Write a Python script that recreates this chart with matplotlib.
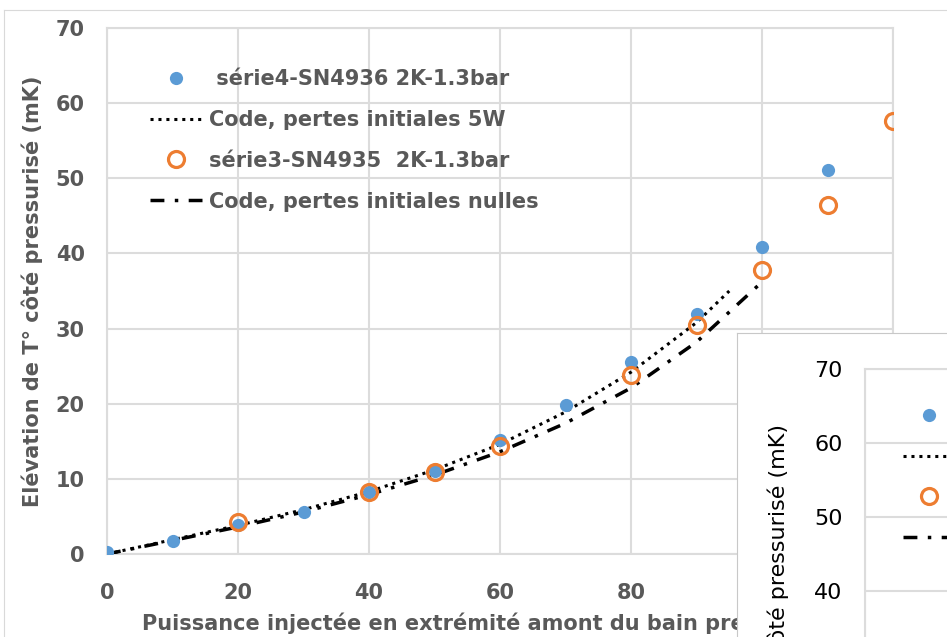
import matplotlib
matplotlib.use("Agg")
import matplotlib.pyplot as plt

plt.rcParams['font.family'] = ['DejaVu Sans']

# mesures série4 (points bleus)
x_s4 = [0, 10, 20, 30, 40, 50, 60, 70, 80, 90, 100, 110]
y_s4 = [0.3, 1.7, 3.8, 5.6, 8.3, 11.0, 15.2, 19.8, 25.5, 32.0, 40.9, 51.1]
# mesures série3 (cercles orange)
x_s3 = [20, 40, 50, 60, 80, 90, 100, 110, 120]
y_s3 = [4.2, 8.3, 10.9, 14.4, 23.8, 30.5, 37.8, 46.4, 57.6]
# calcul code, pertes initiales 5W
x_5w = [0, 10, 20, 30, 40, 50, 60, 70, 80, 90, 95]
y_5w = [0, 1.9, 3.8, 5.9, 8.3, 11.2, 14.6, 18.9, 24.2, 30.8, 35.0]
# calcul code, pertes initiales nulles
x_0w = [0, 10, 20, 30, 40, 50, 60, 70, 80, 90, 100]
y_0w = [0, 1.8, 3.6, 5.6, 7.9, 10.5, 13.6, 17.4, 22.1, 28.2, 36.2]

lab_s4 = " série4-SN4936 2K-1.3bar"
lab_5w = "Code, pertes initiales 5W"
lab_s3 = "série3-SN4935  2K-1.3bar"
lab_0w = "Code, pertes initiales nulles"
ylab = "Elévation de T° côté pressurisé (mK)"
xlab = "Puissance injectée en extrémité amont du bain pressurisé (W)"

xticks = [0, 20, 40, 60, 80, 100, 120]
yticks = [0, 10, 20, 30, 40, 50, 60, 70]

W, H = 947, 637
fig = plt.figure(figsize=(9.47, 6.37), dpi=100)

# cadre de la zone graphique (Excel)
bg = fig.add_axes([4 / W, -0.1, 1.2, 1 - 10 / H + 0.1])
bg.set_xticks([])
bg.set_yticks([])
for s in bg.spines.values():
    s.set_color("#D9D9D9")


def trace(ax, tick_col, fs, wt):
    ax.plot(x_s4, y_s4, "o", color="#5B9BD5", ms=9.5, mec="none", label=lab_s4, zorder=4)
    ax.plot(x_5w, y_5w, color="black", lw=2.2, ls=(0, (1, 1.6)), label=lab_5w, zorder=3)
    ax.plot(x_s3, y_s3, "o", mfc="none", mec="#ED7D31", mew=2.3, ms=11.5, label=lab_s3, zorder=5)
    ax.plot(x_0w, y_0w, color="black", lw=2.5, ls=(0, (4, 3, 1, 3)), label=lab_0w, zorder=3)
    ax.set_xlim(0, 120)
    ax.set_ylim(0, 70)
    ax.set_xticks(xticks)
    ax.set_yticks(yticks)
    ax.grid(True, color="#DCDCDC", lw=1.5)
    ax.set_axisbelow(True)
    for s in ax.spines.values():
        s.set_color("#DCDCDC")
        s.set_linewidth(1.5)
    ax.tick_params(axis="y", length=0, pad=16, labelsize=fs, labelcolor=tick_col)
    ax.tick_params(axis="x", length=0, pad=21, labelsize=fs, labelcolor=tick_col)
    for t in ax.get_xticklabels() + ax.get_yticklabels():
        t.set_fontweight(wt)


ax = fig.add_axes([107 / W, 1 - 554 / H, 786 / W, 526 / H])
trace(ax, "#595959", 15, "bold")
ax.set_ylabel(ylab, fontsize=15, color="#595959", fontweight="bold")
ax.yaxis.set_label_coords(-64 / 786, 0.5)
ax.set_xlabel(xlab, fontsize=15, color="#595959", fontweight="bold")
ax.xaxis.set_label_coords(0.5 + 10 / 786, -58 / 526)
ax.legend(loc="upper left", bbox_to_anchor=(150 / W, 1 - 69 / H), bbox_transform=fig.transFigure,
          frameon=False, handlelength=2.5, handletextpad=0.35, labelspacing=1.0,
          borderpad=0, borderaxespad=0, labelcolor="#595959", prop={"weight": "bold", "size": 15})

# fenêtre superposée en bas à droite
panel = fig.add_axes([737 / W, -0.1, 0.5, 1 - 333 / H + 0.1])
panel.set_xticks([])
panel.set_yticks([])
for s in panel.spines.values():
    s.set_color("#C8C8C8")

ins = fig.add_axes([865 / W, 1 - (369 + 518) / H, 786 / W, 518 / H])
trace(ins, "black", 16, "normal")
ins.set_ylabel(ylab, fontsize=16, color="black")
ins.yaxis.set_label_coords(-76 / 786, 0.5)
ins.legend(loc="upper left", bbox_to_anchor=(903 / W, 1 - 406 / H), bbox_transform=fig.transFigure,
           frameon=False, handlelength=2.5, handletextpad=0.35, labelspacing=1.0,
           borderpad=0, borderaxespad=0, prop={"size": 15})

fig.savefig("out.png", dpi=100)
